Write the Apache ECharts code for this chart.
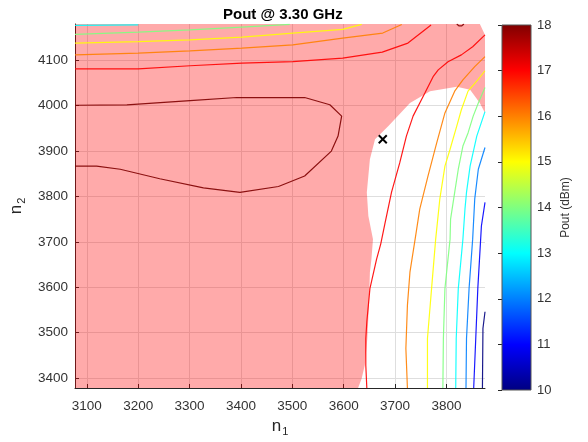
<!DOCTYPE html>
<html>
<head>
<meta charset="utf-8">
<title>Pout @ 3.30 GHz</title>
<script src="https://cdn.jsdelivr.net/npm/echarts@6/dist/echarts.min.js"></script>
<style>
  html, body { margin: 0; padding: 0; background: #fff; }
  #chart { width: 588px; height: 442px; }
</style>
</head>
<body>
<div id="chart"></div>
<script>
// axis ranges and ticks
const n1Range = [3077, 3875]
const n2Range = [3378, 4180]
const n1Ticks = [3100, 3200, 3300, 3400, 3500, 3600, 3700, 3800]
const n2Ticks = [3400, 3500, 3600, 3700, 3800, 3900, 4000, 4100]
const cbRange = [10, 18]
const cbTicks = [10, 11, 12, 13, 14, 15, 16, 17, 18]

// shaded region outline [n1, n2]
const region = [[3077, 4180], [3865, 4180], [3875, 4156], [3875, 3984], [3865, 4006], [3846, 4035],
  [3820, 4042], [3768, 4032], [3729, 4006], [3687, 3955], [3661, 3926], [3651, 3882], [3645, 3809],
  [3648, 3757], [3657, 3706], [3654, 3662], [3651, 3633], [3649, 3560], [3646, 3487], [3641, 3428],
  [3635, 3399], [3628, 3378], [3077, 3378]]

// contour lines [n1, n2]
const c13Top = [[3077, 4177], [3200, 4178]]
const c14Top = [[3077, 4157], [3200, 4162], [3301, 4167], [3402, 4173], [3495, 4179]]
const c15Top = [[3077, 4138], [3200, 4141], [3301, 4145], [3402, 4151], [3501, 4160], [3598, 4168], [3635, 4179]]
const c16Top = [[3077, 4112], [3200, 4116], [3301, 4121], [3402, 4127], [3501, 4134], [3598, 4149], [3676, 4160], [3713, 4179]]
const c17Top = [[3077, 4081], [3200, 4081], [3301, 4088], [3402, 4094], [3501, 4097], [3598, 4105], [3675, 4118], [3725, 4138], [3770, 4178]]
const c18Loop = [[3077, 4001], [3178, 4002], [3301, 4011], [3392, 4018], [3524, 4018], [3573, 4002], [3596, 3977],
  [3589, 3933], [3576, 3900], [3524, 3845], [3473, 3822], [3398, 3809], [3327, 3819], [3242, 3839],
  [3165, 3860], [3119, 3867], [3077, 3867]]
const c18Top = [[3820, 4180], [3824, 4176], [3830, 4176], [3834, 4180]]
const c17Right = [[3875, 4156], [3851, 4130], [3829, 4112], [3803, 4097], [3784, 4079], [3774, 4064], [3758, 4028],
  [3735, 3977], [3722, 3933], [3709, 3874], [3693, 3809], [3680, 3739], [3672, 3695], [3664, 3662],
  [3651, 3597], [3645, 3524], [3643, 3487], [3643, 3428], [3645, 3378]]
const c16Right = [[3875, 4108], [3855, 4086], [3832, 4057], [3816, 4032], [3797, 3984], [3781, 3918], [3764, 3845],
  [3748, 3772], [3739, 3706], [3729, 3634], [3724, 3560], [3721, 3465], [3724, 3378]]
const c15Right = [[3875, 4077], [3861, 4057], [3842, 4032], [3829, 3991], [3820, 3955], [3807, 3904], [3797, 3867],
  [3787, 3794], [3779, 3706], [3771, 3597], [3763, 3487], [3763, 3378]]
const c14Right = [[3875, 4040], [3862, 4006], [3852, 3977], [3842, 3940], [3832, 3911], [3823, 3860], [3816, 3809],
  [3808, 3750], [3807, 3706], [3797, 3597], [3794, 3487], [3793, 3378]]
const c13Right = [[3875, 3987], [3859, 3933], [3846, 3867], [3839, 3809], [3836, 3772], [3832, 3706], [3823, 3597],
  [3819, 3487], [3818, 3378]]
const c12Right = [[3875, 3908], [3862, 3860], [3855, 3794], [3851, 3706], [3844, 3597], [3839, 3487], [3838, 3378]]
const c11Right = [[3875, 3787], [3868, 3735], [3866, 3695], [3861, 3597], [3857, 3487], [3853, 3378]]
const c10Right = [[3875, 3546], [3871, 3509], [3870, 3378]]

// marked point
const bestPoint = [3676, 3926]

const contours = [
  { level: 13, pts: c13Top }, { level: 14, pts: c14Top }, { level: 15, pts: c15Top },
  { level: 16, pts: c16Top }, { level: 17, pts: c17Top }, { level: 18, pts: c18Loop },
  { level: 18, pts: c18Top }, { level: 17, pts: c17Right }, { level: 16, pts: c16Right },
  { level: 15, pts: c15Right }, { level: 14, pts: c14Right }, { level: 13, pts: c13Right },
  { level: 12, pts: c12Right }, { level: 11, pts: c11Right }, { level: 10, pts: c10Right }
]

// jet colours
const levelColor = {
  10: '#000080', 11: '#0000ff', 12: '#0080ff', 13: '#00ffff', 14: '#80ff80',
  15: '#ffff00', 16: '#ff8000', 17: '#ff0000', 18: '#800000'
}

const font = 'Liberation Sans, Arial, Helvetica, sans-serif'
const axisColor = '#262626'
const plain = v => String(v)

const chart = echarts.init(document.getElementById('chart'))

const series = []

// shaded region
series.push({
  type: 'custom',
  xAxisIndex: 0,
  yAxisIndex: 0,
  z: 2,
  silent: true,
  data: [[n1Range[0], n2Range[0]]],
  renderItem: function (params, api) {
    const points = region.map(p => api.coord(p))
    return {
      type: 'polygon',
      shape: { points: points },
      style: { fill: 'rgba(255,0,0,0.333)', stroke: null }
    }
  }
})

contours.forEach(c => {
  series.push({
    type: 'line',
    xAxisIndex: 0,
    yAxisIndex: 0,
    z: 3,
    data: c.pts,
    showSymbol: false,
    symbol: 'none',
    silent: true,
    lineStyle: { color: levelColor[c.level], width: 1.2, opacity: 0.9 }
  })
})

// x marker
series.push({
  type: 'custom',
  xAxisIndex: 0,
  yAxisIndex: 0,
  z: 5,
  silent: true,
  data: [bestPoint],
  renderItem: function (params, api) {
    const p = api.coord([api.value(0), api.value(1)])
    const r = 4
    return {
      type: 'group',
      children: [
        { type: 'line', shape: { x1: p[0] - r, y1: p[1] - r, x2: p[0] + r, y2: p[1] + r }, style: { stroke: '#000', lineWidth: 2 } },
        { type: 'line', shape: { x1: p[0] - r, y1: p[1] + r, x2: p[0] + r, y2: p[1] - r }, style: { stroke: '#000', lineWidth: 2 } }
      ]
    }
  }
})

// colour bar
series.push({
  type: 'custom',
  xAxisIndex: 1,
  yAxisIndex: 1,
  silent: true,
  data: [[0, cbRange[0], 1, cbRange[1]]],
  renderItem: function (params, api) {
    const p0 = api.coord([api.value(0), api.value(1)])
    const p1 = api.coord([api.value(2), api.value(3)])
    return {
      type: 'rect',
      shape: { x: p0[0], y: p1[1], width: p1[0] - p0[0], height: p0[1] - p1[1] },
      style: {
        fill: new echarts.graphic.LinearGradient(0, 1, 0, 0, [
          { offset: 0, color: '#000080' },
          { offset: 0.125, color: '#0000ff' },
          { offset: 0.375, color: '#00ffff' },
          { offset: 0.625, color: '#ffff00' },
          { offset: 0.875, color: '#ff0000' },
          { offset: 1, color: '#800000' }
        ]),
        stroke: '#555',
        lineWidth: 1
      }
    }
  }
})

const option = {
  animation: false,
  backgroundColor: '#fff',
  textStyle: { fontFamily: font },
  title: {
    text: 'Pout @ 3.30 GHz',
    left: 218,
    top: 2,
    textStyle: { fontFamily: font, fontSize: 15, fontWeight: 'bold', color: '#000' }
  },
  grid: [
    { left: 75, top: 24, width: 410, height: 366 },
    { left: 502, top: 25, width: 29, height: 365 }
  ],
  xAxis: [
    {
      type: 'value',
      gridIndex: 0,
      min: n1Range[0],
      max: n1Range[1],
      splitNumber: 8,
      name: '{n|n}{s|1}',
      nameLocation: 'middle',
      nameGap: 28,
      nameTextStyle: {
        rich: {
          n: { fontSize: 17, fontFamily: font, color: axisColor },
          s: { fontSize: 11, fontFamily: font, color: axisColor, padding: [10, 0, 0, 1] }
        }
      },
      axisLine: { show: true, lineStyle: { color: axisColor, width: 1 } },
      axisTick: { inside: true, length: 4, lineStyle: { color: axisColor }, customValues: n1Ticks },
      axisLabel: { customValues: n1Ticks, formatter: plain, fontSize: 13.5, color: '#333', margin: 11, fontFamily: font },
      splitLine: { show: true, lineStyle: { color: '#dedede', width: 1 } }
    },
    { type: 'value', gridIndex: 1, min: 0, max: 1, show: false }
  ],
  yAxis: [
    {
      type: 'value',
      gridIndex: 0,
      min: n2Range[0],
      max: n2Range[1],
      splitNumber: 8,
      name: '{n|n}{s|2}',
      nameLocation: 'middle',
      nameRotate: 90,
      nameGap: 40,
      nameTextStyle: {
        rich: {
          n: { fontSize: 17, fontFamily: font, color: axisColor },
          s: { fontSize: 11, fontFamily: font, color: axisColor, padding: [10, 0, 0, 1] }
        }
      },
      axisLine: { show: true, lineStyle: { color: axisColor, width: 1 } },
      axisTick: { inside: true, length: 4, lineStyle: { color: axisColor }, customValues: n2Ticks },
      axisLabel: { customValues: n2Ticks, formatter: plain, fontSize: 13.5, color: '#333', margin: 7, fontFamily: font },
      splitLine: { show: true, lineStyle: { color: '#dedede', width: 1 } }
    },
    {
      type: 'value',
      gridIndex: 1,
      min: cbRange[0],
      max: cbRange[1],
      interval: 1,
      position: 'right',
      name: 'Pout (dBm)',
      nameLocation: 'middle',
      nameRotate: 90,
      nameGap: 29,
      nameTextStyle: { fontSize: 12, color: '#333', fontFamily: font },
      axisLine: { show: false },
      axisTick: { show: true, inside: true, length: 4, lineStyle: { color: axisColor }, customValues: cbTicks },
      axisLabel: { customValues: cbTicks, fontSize: 13, color: '#333', margin: 6, fontFamily: font },
      splitLine: { show: false }
    }
  ],
  series: series
}

chart.setOption(option)
</script>
</body>
</html>
